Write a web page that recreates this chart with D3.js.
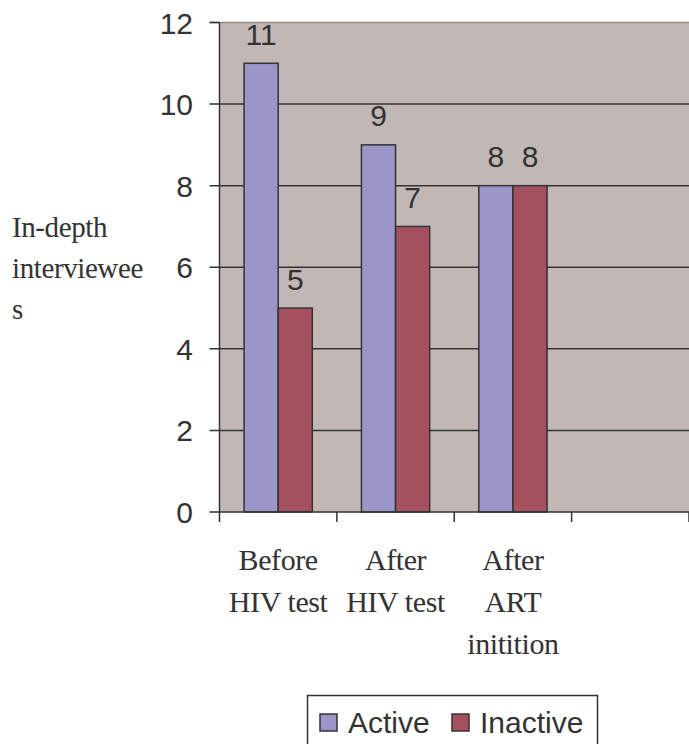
<!DOCTYPE html>
<html lang="en">
<head>
<meta charset="UTF-8">
<script src="https://d3js.org/d3.v7.min.js"></script>
<style>
  body { margin: 0; background: #fff; }
  svg text { fill: #333; }
  .sans { font-family: "Liberation Sans", Arial, sans-serif; }
  .serif { font-family: "Liberation Serif", "Times New Roman", serif; letter-spacing: -0.4px; }
</style>
</head>
<body>
<div id="chart"></div>
<script>
const categories = [['Before', 'HIV test'], ['After', 'HIV test'], ['After', 'ART', 'initition'], ['']]
const activeVals = [11, 9, 8, null]
const inactiveVals = [5, 7, 8, null]
const yTicks = [0, 2, 4, 6, 8, 10, 12]
const seriesNames = ['Active', 'Inactive']
const colors = ['#9b95c8', '#a5505f']

const width = 689, height = 744
const plotLeft = 219.5, plotRight = 689, plotTop = 22.5, plotBottom = 512

const svg = d3.select('#chart').append('svg')
    .attr('width', width)
    .attr('height', height)

const x = d3.scaleBand()
    .domain(d3.range(categories.length))
    .range([plotLeft, plotRight])

const xInner = d3.scaleBand()
    .domain(seriesNames)
    .range([0, x.bandwidth()])
    .paddingInner(0)
    .paddingOuter(0.72)

const y = d3.scaleLinear()
    .domain([0, 12])
    .range([plotBottom, plotTop])

// plot background
svg.append('rect')
    .attr('x', plotLeft).attr('y', plotTop)
    .attr('width', plotRight - plotLeft).attr('height', plotBottom - plotTop)
    .attr('fill', '#c1b8b6')

// gridlines
svg.selectAll('.grid')
    .data(yTicks.filter(d => d > 0))
    .enter().append('line')
    .attr('x1', plotLeft - 10).attr('x2', plotRight)
    .attr('y1', d => y(d)).attr('y2', d => y(d))
    .attr('stroke', d => d === 12 ? '#948a88' : '#333')
    .attr('stroke-width', 1.5)

svg.append('line')
    .attr('x1', plotLeft - 10).attr('x2', plotLeft)
    .attr('y1', y(12)).attr('y2', y(12))
    .attr('stroke', '#333').attr('stroke-width', 1.5)

// bars
const rows = categories.map((c, i) => [activeVals[i], inactiveVals[i]])
const groups = svg.selectAll('.grp')
    .data(rows)
    .enter().append('g')
    .attr('transform', (d, i) => `translate(${x(i)},0)`)

groups.selectAll('rect')
    .data(d => d.map((v, j) => ({ v, name: seriesNames[j], j })).filter(e => e.v != null))
    .enter().append('rect')
    .attr('x', d => xInner(d.name))
    .attr('y', d => y(d.v))
    .attr('width', xInner.bandwidth())
    .attr('height', d => plotBottom - y(d.v))
    .attr('fill', d => colors[d.j])
    .attr('stroke', '#333')
    .attr('stroke-width', 1.5)

groups.selectAll('.val')
    .data(d => d.map((v, j) => ({ v, name: seriesNames[j], j })).filter(e => e.v != null))
    .enter().append('text')
    .attr('class', 'sans')
    .attr('x', d => xInner(d.name) + xInner.bandwidth() / 2)
    .attr('y', d => y(d.v) - 18.5)
    .attr('text-anchor', 'middle')
    .attr('font-size', 30)
    .text(d => d.v)

// axes
svg.append('line')
    .attr('x1', plotLeft).attr('x2', plotLeft)
    .attr('y1', plotTop).attr('y2', plotBottom)
    .attr('stroke', '#333').attr('stroke-width', 1.5)
svg.append('line')
    .attr('x1', plotLeft - 10).attr('x2', plotRight)
    .attr('y1', plotBottom).attr('y2', plotBottom)
    .attr('stroke', '#333').attr('stroke-width', 1.5)

// x ticks
svg.selectAll('.xt')
    .data(d3.range(categories.length + 1))
    .enter().append('line')
    .attr('x1', i => plotLeft + i * x.step()).attr('x2', i => plotLeft + i * x.step())
    .attr('y1', plotBottom).attr('y2', plotBottom + 10)
    .attr('stroke', '#333').attr('stroke-width', 1.5)

// y tick labels
svg.selectAll('.yl')
    .data(yTicks)
    .enter().append('text')
    .attr('class', 'sans')
    .attr('x', 193)
    .attr('y', d => y(d) + 11)
    .attr('text-anchor', 'end')
    .attr('font-size', 30)
    .text(d => d)

// x category labels
categories.forEach((lines, i) => {
    svg.append('text')
        .attr('class', 'serif')
        .attr('x', x(i) + x.bandwidth() / 2)
        .attr('y', 570)
        .attr('text-anchor', 'middle')
        .attr('font-size', 30)
        .selectAll('tspan')
        .data(lines)
        .enter().append('tspan')
        .attr('x', x(i) + x.bandwidth() / 2)
        .attr('dy', (d, k) => k === 0 ? 0 : 42)
        .text(d => d)
})

// y title
svg.append('text')
    .attr('class', 'serif')
    .attr('x', 12).attr('y', 237)
    .attr('font-size', 29)
    .selectAll('tspan')
    .data(['In-depth', 'interviewee', 's'])
    .enter().append('tspan')
    .attr('x', 12)
    .attr('dy', (d, k) => k === 0 ? 0 : 41)
    .text(d => d)

// legend
svg.append('rect')
    .attr('x', 307.5).attr('y', 695.5)
    .attr('width', 290).attr('height', 60)
    .attr('fill', '#fff').attr('stroke', '#333').attr('stroke-width', 1.5)
const legX = [320, 452]
seriesNames.forEach((n, j) => {
    svg.append('rect')
        .attr('x', legX[j]).attr('y', 714)
        .attr('width', 17).attr('height', 17)
        .attr('fill', colors[j]).attr('stroke', '#333').attr('stroke-width', 1.5)
    svg.append('text')
        .attr('class', 'sans')
        .attr('x', legX[j] + 28).attr('y', 733)
        .attr('font-size', 30)
        .text(n)
})
</script>
</body>
</html>
